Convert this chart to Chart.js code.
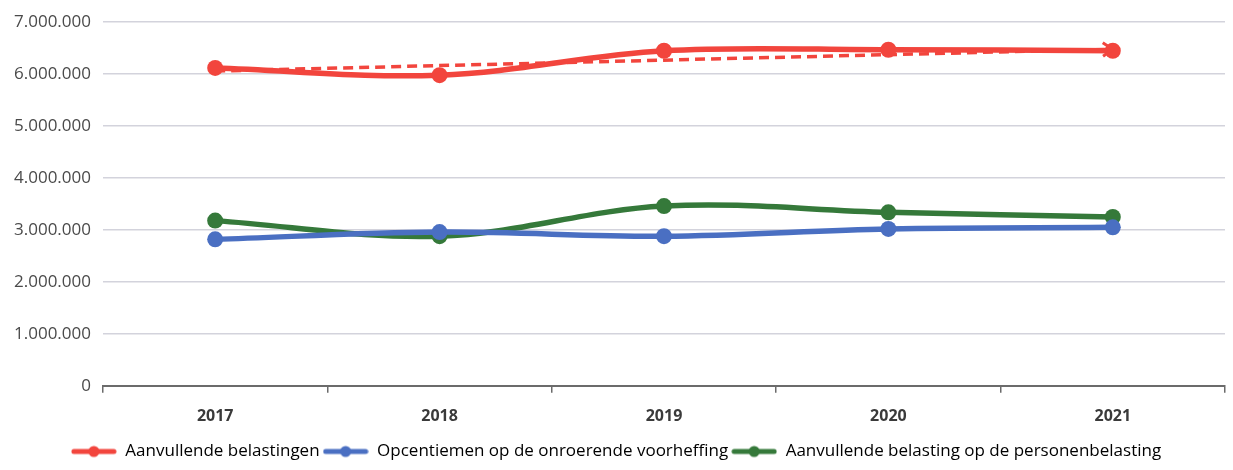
<!DOCTYPE html>
<html>
<head>
<meta charset="utf-8">
<script src="https://cdn.jsdelivr.net/npm/chart.js@4"></script>
<style>
  html, body { margin: 0; padding: 0; background: #fff; }
  #wrap { width: 1233px; height: 470px; }
</style>
</head>
<body>
<div id="wrap"><canvas id="chart"></canvas></div>
<script>
const years = ['2017', '2018', '2019', '2020', '2021'];
const aanvullendeBelastingen = [6120000, 5980000, 6450000, 6470000, 6450000];
const opcentiemen = [2820000, 2960000, 2880000, 3020000, 3050000];
const personenbelasting = [3180000, 2880000, 3460000, 3340000, 3250000];
// trend line read at its two ends only
const trendRed = [6060000, null, null, null, 6480000];
const yTicks = [0, 1000000, 2000000, 3000000, 4000000, 5000000, 6000000, 7000000];

const RED = '#f2453d';
const BLUE = '#4a6fc2';
const GREEN = '#35793a';
const FONT = "'Open Sans', sans-serif";

// legend marker: short line with a dot on it
function legendIcon(color) {
  const c = document.createElement('canvas');
  c.width = 46; c.height = 14;
  const g = c.getContext('2d');
  g.strokeStyle = color;
  g.lineWidth = 5;
  g.lineCap = 'round';
  g.beginPath(); g.moveTo(3, 7); g.lineTo(43, 7); g.stroke();
  g.fillStyle = color;
  g.beginPath(); g.arc(23, 7, 5.5, 0, Math.PI * 2); g.fill();
  return c;
}

const fmt = v => v.toLocaleString('de-DE');

// arrow head at the end of the dashed trend line
const arrowPlugin = {
  id: 'trendArrow',
  afterDatasetsDraw(chart) {
    const meta = chart.getDatasetMeta(3);
    const pts = meta.data.filter((p, i) => trendRed[i] !== null);
    if (pts.length < 2) return;
    const a = pts[0], b = pts[pts.length - 1];
    const ang = Math.atan2(b.y - a.y, b.x - a.x);
    const ctx = chart.ctx;
    ctx.save();
    ctx.strokeStyle = RED;
    ctx.lineWidth = 3;
    ctx.beginPath();
    ctx.moveTo(b.x - 12 * Math.cos(ang - 0.6), b.y - 12 * Math.sin(ang - 0.6));
    ctx.lineTo(b.x, b.y);
    ctx.lineTo(b.x - 12 * Math.cos(ang + 0.6), b.y - 12 * Math.sin(ang + 0.6));
    ctx.stroke();
    ctx.restore();
  }
};

function lineSet(label, data, color) {
  return {
    label: label,
    data: data,
    borderColor: color,
    backgroundColor: color,
    borderWidth: 5.5,
    pointStyle: 'circle',
    pointRadius: 8,
    pointHoverRadius: 8,
    pointBackgroundColor: color,
    pointBorderWidth: 0,
    tension: 0.35,
    fill: false,
    order: 1
  };
}

const datasets = [
  lineSet('Aanvullende belastingen', aanvullendeBelastingen, RED),
  lineSet('Opcentiemen op de onroerende voorheffing', opcentiemen, BLUE),
  lineSet('Aanvullende belasting op de personenbelasting', personenbelasting, GREEN),
  {
    label: 'trend',
    data: trendRed,
    borderColor: RED,
    borderWidth: 3.5,
    borderDash: [10, 6],
    pointRadius: 0,
    spanGaps: true,
    tension: 0,
    fill: false,
    order: 5
  }
];

new Chart(document.getElementById('chart'), {
  type: 'line',
  data: { labels: years, datasets: datasets },
  plugins: [arrowPlugin],
  options: {
    responsive: true,
    maintainAspectRatio: false,
    animation: false,
    layout: { padding: { top: 1, right: 3, left: 2, bottom: 0 } },
    plugins: {
      tooltip: { enabled: false },
      legend: {
        position: 'bottom',
        labels: {
          usePointStyle: true,
          pointStyleWidth: 46,
          boxHeight: 14,
          padding: 3,
          color: '#222',
          font: { family: FONT, size: 17 },
          generateLabels: chart => chart.data.datasets.slice(0, 3).map((ds, i) => ({
            text: ds.label,
            pointStyle: legendIcon(ds.borderColor),
            fillStyle: ds.borderColor,
            strokeStyle: ds.borderColor,
            lineWidth: 0,
            datasetIndex: i,
            hidden: false
          }))
        }
      }
    },
    scales: {
      x: {
        offset: true,
        border: { display: true, color: '#6b6b6b', width: 2 },
        grid: {
          offset: true,
          drawOnChartArea: false,
          drawTicks: true,
          tickLength: 7,
          color: '#6b6b6b',
          lineWidth: 1.5
        },
        ticks: {
          color: '#3a3a3a',
          padding: 14,
          font: { family: FONT, size: 16, weight: 'bold' }
        }
      },
      y: {
        min: 0,
        max: 7000000,
        afterBuildTicks: axis => { axis.ticks = yTicks.map(v => ({ value: v })); },
        border: { display: false },
        grid: { color: '#d3d3dc', lineWidth: 1.5, drawTicks: false },
        ticks: {
          color: '#4a4a4a',
          padding: 12,
          font: { family: FONT, size: 17 },
          callback: v => fmt(v)
        }
      }
    }
  }
});
</script>
</body>
</html>
